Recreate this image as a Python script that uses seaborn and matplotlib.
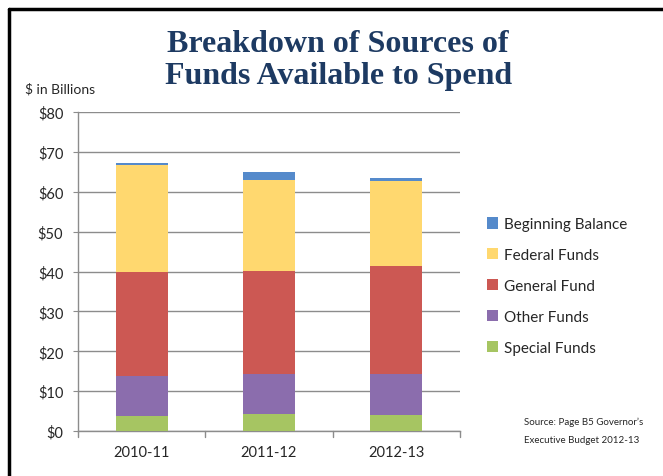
import numpy as np
import pandas as pd
import matplotlib
matplotlib.use("Agg")
import matplotlib.pyplot as plt
from matplotlib.patches import Patch
from matplotlib.lines import Line2D
import seaborn as sns

# --- DATA ($ billions) ---
years = ["2010-11", "2011-12", "2012-13"]
special_funds = [3.8, 4.2, 4.1]
other_funds = [9.9, 10.2, 10.2]
general_fund = [26.2, 25.8, 27.1]
federal_funds = [26.8, 22.8, 21.3]
beginning_balance = [0.4, 2.0, 0.7]

sources = ["Special Funds", "Other Funds", "General Fund", "Federal Funds", "Beginning Balance"]
colors = {
    "Special Funds": "#A6C562",
    "Other Funds": "#8B6DAD",
    "General Fund": "#CC5853",
    "Federal Funds": "#FFD86F",
    "Beginning Balance": "#558ACB",
}

df = pd.DataFrame({
    "Year": years,
    "Special Funds": special_funds,
    "Other Funds": other_funds,
    "General Fund": general_fund,
    "Federal Funds": federal_funds,
    "Beginning Balance": beginning_balance,
})
cum = df[sources].cumsum(axis=1)
cum["Year"] = df["Year"]

sns.set_style("white")
plt.rcParams["font.family"] = ["Lato", "DejaVu Sans"]

fig = plt.figure(figsize=(6.63, 4.77), dpi=100)
ax = fig.add_axes([0.1176, 0.0943, 0.5762, 0.6688])

# stacked bars: draw cumulative totals from top segment down
for src in reversed(sources):
    sns.barplot(data=cum, x="Year", y=src, color=colors[src], width=0.41,
                saturation=1, ax=ax, zorder=3, linewidth=0)

ax.set_ylim(0, 80)
ax.set_xlim(-0.5, 2.5)
ax.set_yticks(np.arange(0, 81, 10))
ax.set_yticklabels([f"${v}" for v in range(0, 81, 10)], fontsize=10.5)
ax.set_xticks([0, 1, 2])
ax.set_xticklabels(years, fontsize=10.5)
ax.set_xlabel("")
ax.set_ylabel("")
ax.grid(axis="y", color="#8C8C8C", linewidth=1, zorder=0)
ax.set_axisbelow(True)
for s in ["top", "right"]:
    ax.spines[s].set_visible(False)
for s in ["left", "bottom"]:
    ax.spines[s].set_color("#8C8C8C")
    ax.spines[s].set_linewidth(1)
ax.tick_params(axis="y", length=3.6, color="#8C8C8C", pad=7, left=True)
ax.tick_params(axis="x", length=0, pad=10)
# category boundary ticks on the x axis
for xb in [-0.5, 0.5, 1.5, 2.5]:
    ax.plot([xb, xb], [0, -1.6], color="#8C8C8C", linewidth=1, clip_on=False)

# legend
handles = [Patch(facecolor=colors[s], edgecolor="none", label=s) for s in reversed(sources)]
fig.legend(handles=handles, loc="upper left", bbox_to_anchor=(0.725, 0.555),
           frameon=False, fontsize=11, handlelength=0.75, handleheight=0.75,
           handletextpad=0.4, labelspacing=1.1, borderaxespad=0)

# titles and notes
fig.text(0.51, 0.907, "Breakdown of Sources of", ha="center", va="center",
         fontsize=23, fontweight="bold", color="#1D3A62", family="Liberation Serif")
fig.text(0.51, 0.839, "Funds Available to Spend", ha="center", va="center",
         fontsize=23, fontweight="bold", color="#1D3A62", family="Liberation Serif")
fig.text(0.037, 0.812, "$ in Billions", ha="left", va="center", fontsize=10)
fig.text(0.79, 0.115, "Source: Page B5 Governor\u2019s", ha="left", va="center", fontsize=7)
fig.text(0.79, 0.077, "Executive Budget 2012-13", ha="left", va="center", fontsize=7)

# slide frame
fig.add_artist(Line2D([0.013, 1.0], [0.98, 0.98], color="black", linewidth=2.5,
                      transform=fig.transFigure))
fig.add_artist(Line2D([0.013, 0.013], [0.0, 0.98], color="black", linewidth=2.5,
                      transform=fig.transFigure))

fig.savefig("out.png", dpi=100)
